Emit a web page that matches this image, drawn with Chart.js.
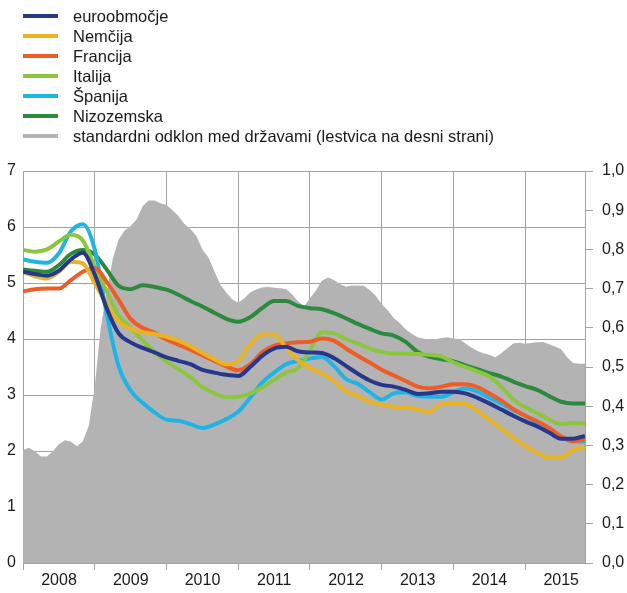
<!DOCTYPE html>
<html>
<head>
<meta charset="utf-8">
<script src="https://cdn.jsdelivr.net/npm/chart.js@4/dist/chart.umd.min.js"></script>
<style>
  html, body { margin: 0; padding: 0; background: #fff; }
  #wrap { position: relative; width: 627px; height: 593px; }
  #legend { position: absolute; left: 23px; top: 6px; font: 16.5px "Liberation Sans", Arial, sans-serif; color: #1a1a1a; }
  .item { height: 20px; display: flex; align-items: center; white-space: nowrap; }
  .swatch { width: 35px; height: 4px; margin-right: 15px; }
</style>
</head>
<body>
<div id="wrap">
  <canvas id="chart" width="627" height="593"></canvas>
  <div id="legend"></div>
</div>
<script>
// months counted from January 2008
const lineMonths = Array.from({ length: 48 }, (_, i) => i * 2);
const sdMonths = Array.from({ length: 95 }, (_, i) => i);
const yearLabels = ['2008', '2009', '2010', '2011', '2012', '2013', '2014', '2015'];

const seriesNames = ['euroobmočje', 'Nemčija', 'Francija', 'Italija', 'Španija', 'Nizozemska'];
const sdName = 'standardni odklon med državami (lestvica na desni strani)';

const euroArea = [5.20, 5.16, 5.13, 5.22, 5.42, 5.54, 5.15, 4.55, 4.10, 3.94, 3.84, 3.76,
  3.67, 3.61, 3.55, 3.45, 3.40, 3.36, 3.34, 3.50, 3.70, 3.83, 3.86, 3.78,
  3.76, 3.75, 3.66, 3.52, 3.38, 3.26, 3.18, 3.15, 3.09, 3.02, 3.03, 3.06,
  3.06, 3.03, 2.95, 2.85, 2.74, 2.63, 2.53, 2.44, 2.33, 2.22, 2.22, 2.27];
const germany = [5.20, 5.12, 5.08, 5.20, 5.38, 5.35, 5.00, 4.62, 4.31, 4.18, 4.12, 4.09,
  4.04, 3.97, 3.87, 3.75, 3.64, 3.55, 3.60, 3.90, 4.08, 4.08, 3.85, 3.62,
  3.48, 3.39, 3.25, 3.07, 2.98, 2.88, 2.83, 2.79, 2.78, 2.74, 2.70, 2.84,
  2.85, 2.84, 2.72, 2.56, 2.40, 2.24, 2.09, 1.97, 1.88, 1.88, 2.02, 2.07];
const france = [4.85, 4.89, 4.90, 4.90, 5.05, 5.20, 5.27, 5.02, 4.70, 4.36, 4.20, 4.11,
  3.99, 3.90, 3.81, 3.71, 3.61, 3.51, 3.44, 3.55, 3.76, 3.88, 3.92, 3.94,
  3.95, 4.01, 3.97, 3.83, 3.70, 3.58, 3.45, 3.35, 3.25, 3.15, 3.12, 3.15,
  3.19, 3.19, 3.14, 3.03, 2.90, 2.75, 2.63, 2.53, 2.41, 2.26, 2.17, 2.21];
const italy = [5.59, 5.56, 5.60, 5.74, 5.86, 5.76, 5.30, 4.85, 4.42, 4.20, 3.98, 3.76,
  3.60, 3.46, 3.32, 3.14, 3.03, 2.96, 2.97, 3.03, 3.14, 3.27, 3.40, 3.48,
  3.80, 4.12, 4.10, 4.00, 3.92, 3.83, 3.77, 3.74, 3.74, 3.73, 3.72, 3.69,
  3.58, 3.50, 3.42, 3.33, 3.15, 2.92, 2.78, 2.68, 2.56, 2.48, 2.50, 2.49];
const spain = [5.42, 5.38, 5.36, 5.53, 5.92, 6.05, 5.60, 4.45, 3.51, 3.08, 2.86, 2.69,
  2.56, 2.54, 2.48, 2.41, 2.47, 2.57, 2.70, 2.95, 3.22, 3.40, 3.55, 3.61,
  3.65, 3.68, 3.52, 3.29, 3.20, 3.05, 2.92, 3.03, 3.05, 2.98, 2.97, 2.97,
  3.05, 3.12, 3.06, 2.95, 2.85, 2.73, 2.63, 2.50, 2.35, 2.24, 2.18, 2.17];
const netherlands = [5.24, 5.22, 5.20, 5.32, 5.52, 5.59, 5.51, 5.24, 4.95, 4.89, 4.96, 4.93,
  4.88, 4.79, 4.68, 4.58, 4.47, 4.36, 4.31, 4.39, 4.55, 4.68, 4.68, 4.59,
  4.55, 4.53, 4.46, 4.37, 4.27, 4.18, 4.10, 4.06, 3.95, 3.77, 3.68, 3.64,
  3.60, 3.53, 3.46, 3.39, 3.33, 3.24, 3.16, 3.09, 2.98, 2.88, 2.85, 2.85];
const stdDev = [0.288, 0.294, 0.285, 0.272, 0.272, 0.285, 0.303, 0.313, 0.310, 0.298, 0.310, 0.350,
  0.450, 0.600, 0.690, 0.775, 0.825, 0.848, 0.860, 0.876, 0.910, 0.925, 0.925, 0.918,
  0.913, 0.900, 0.885, 0.865, 0.852, 0.834, 0.800, 0.780, 0.745, 0.710, 0.690, 0.672,
  0.664, 0.675, 0.690, 0.698, 0.703, 0.704, 0.702, 0.701, 0.699, 0.685, 0.668, 0.655,
  0.675, 0.695, 0.720, 0.728, 0.722, 0.712, 0.705, 0.708, 0.708, 0.707, 0.696, 0.682,
  0.660, 0.645, 0.625, 0.612, 0.596, 0.585, 0.576, 0.572, 0.571, 0.571, 0.574, 0.576,
  0.573, 0.571, 0.560, 0.550, 0.541, 0.535, 0.531, 0.525, 0.535, 0.548, 0.560, 0.562,
  0.559, 0.561, 0.563, 0.564, 0.558, 0.552, 0.545, 0.525, 0.510, 0.508, 0.508];

const colors = ['#27388c', '#e9b423', '#ef5d26', '#8cc63f', '#1fb4e6', '#2b8a3e'];
const sdColor = '#b3b3b3';
const gridColor = '#a3a3a3';
const textColor = '#1a1a1a';
const font = { family: '"Liberation Sans", Arial, sans-serif', size: 16 };

const lineValues = [euroArea, germany, france, italy, spain, netherlands];

const datasets = lineValues.map((vals, i) => ({
    label: seriesNames[i],
    data: vals.map((v, j) => ({ x: lineMonths[j], y: v })),
    borderColor: colors[i],
    borderWidth: 4,
    pointRadius: 0,
    cubicInterpolationMode: 'monotone',
    fill: false,
    yAxisID: 'y',
    order: i
}));

datasets.push({
    label: sdName,
    data: stdDev.map((v, j) => ({ x: sdMonths[j], y: v })),
    borderWidth: 0,
    backgroundColor: sdColor,
    borderColor: sdColor,
    pointRadius: 0,
    tension: 0,
    fill: 'origin',
    yAxisID: 'y2',
    order: 10
});

// legend as plain html
const legendEl = document.getElementById('legend');
datasets.forEach(ds => {
    const row = document.createElement('div');
    row.className = 'item';
    const sw = document.createElement('span');
    sw.className = 'swatch';
    sw.style.background = ds.borderColor;
    const txt = document.createElement('span');
    txt.textContent = ds.label;
    row.appendChild(sw);
    row.appendChild(txt);
    legendEl.appendChild(row);
});

const ctx = document.getElementById('chart').getContext('2d');
new Chart(ctx, {
    type: 'line',
    data: { datasets: datasets },
    options: {
        responsive: false,
        animation: false,
        events: [],
        layout: { padding: { top: 171, left: 0, right: 0, bottom: 0 } },
        plugins: { legend: { display: false }, tooltip: { enabled: false } },
        scales: {
            x: {
                type: 'linear',
                min: 0,
                max: 94,
                afterBuildTicks: scale => {
                    scale.ticks = yearLabels.map((_, i) => ({ value: i * 12 }));
                },
                afterFit: scale => { scale.height = 30; },
                grid: { color: gridColor, lineWidth: 1, tickLength: 7, drawTicks: true },
                border: { color: gridColor },
                ticks: {
                    autoSkip: false,
                    maxRotation: 0,
                    labelOffset: 36,
                    padding: 1,
                    color: textColor,
                    font: font,
                    callback: (v) => yearLabels[Math.round(v / 12)]
                }
            },
            y: {
                position: 'left',
                min: 0,
                max: 7,
                afterFit: scale => { scale.width = 23; },
                grid: { color: gridColor, drawTicks: false },
                border: { color: gridColor },
                ticks: { stepSize: 1, padding: 7, color: textColor, font: font }
            },
            y2: {
                position: 'right',
                min: 0,
                max: 1,
                afterFit: scale => { scale.width = 42; },
                grid: { drawOnChartArea: false, color: gridColor, tickLength: 8 },
                border: { color: gridColor },
                ticks: {
                    stepSize: 0.1,
                    padding: 9,
                    color: textColor,
                    font: font,
                    callback: v => v.toFixed(1).replace('.', ',')
                }
            }
        }
    }
});
</script>
</body>
</html>
